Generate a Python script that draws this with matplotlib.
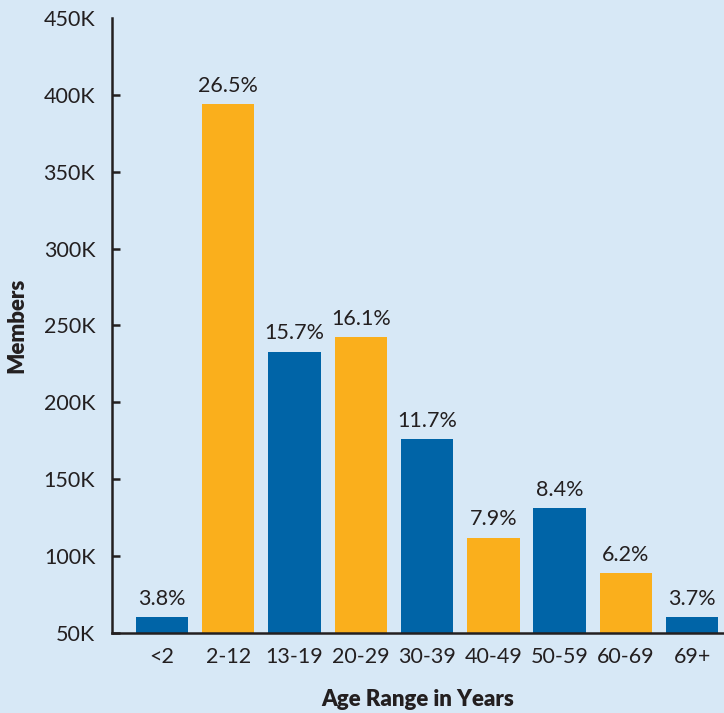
import matplotlib.pyplot as plt
from matplotlib.ticker import FuncFormatter

# age groups and member counts
ages = ['<2', '2-12', '13-19', '20-29', '30-39', '40-49', '50-59', '60-69', '69+']
members = [60400, 394000, 233000, 242500, 176000, 112000, 131000, 89000, 60200]
shares = ['3.8%', '26.5%', '15.7%', '16.1%', '11.7%', '7.9%', '8.4%', '6.2%', '3.7%']

blue = '#0064A7'
orange = '#FAAF1C'
bg = '#D7E8F6'
ink = '#231F20'

plt.rcParams['font.family'] = ['Lato', 'DejaVu Sans']

fig = plt.figure(figsize=(7.24, 7.13), dpi=100, facecolor=bg)
ax = fig.add_axes([0.1547, 0.1122, 0.8453, 0.8626], facecolor=bg)

colors = [blue if i % 2 == 0 else orange for i in range(len(ages))]
x = list(range(len(ages)))
bars = ax.bar(x, members, width=0.79, color=colors, zorder=2)

for b, s in zip(bars, shares):
    ax.annotate(s, (b.get_x() + b.get_width() / 2, b.get_height()),
                xytext=(0, 6), textcoords='offset points',
                ha='center', va='bottom', fontsize=15.5, color=ink)

ax.set_xlim(-0.754, 8.48)
ax.set_ylim(50000, 450000)
ax.set_yticks(range(50000, 450001, 50000))
ax.yaxis.set_major_formatter(FuncFormatter(lambda v, p: '%dK' % (v / 1000)))
ax.set_xticks(x)
ax.set_xticklabels(ages)

ax.tick_params(axis='y', direction='in', length=6, width=1.8, color=ink,
               labelsize=15.5, labelcolor=ink, pad=12)
ax.tick_params(axis='x', length=0, labelsize=15.5, labelcolor=ink, pad=10)
# no tick mark at the top of the axis
ax.yaxis.get_major_ticks()[-1].tick1line.set_visible(False)

for side in ['top', 'right']:
    ax.spines[side].set_visible(False)
for side in ['left', 'bottom']:
    ax.spines[side].set_color(ink)
    ax.spines[side].set_linewidth(1.8)
    ax.spines[side].set_zorder(3)

ax.set_ylabel('Members', fontsize=16, fontweight='heavy', color=ink, labelpad=12)
ax.set_xlabel('Age Range in Years', fontsize=16, fontweight='heavy', color=ink, labelpad=16)

fig.savefig('out.png', dpi=100, facecolor=bg)
